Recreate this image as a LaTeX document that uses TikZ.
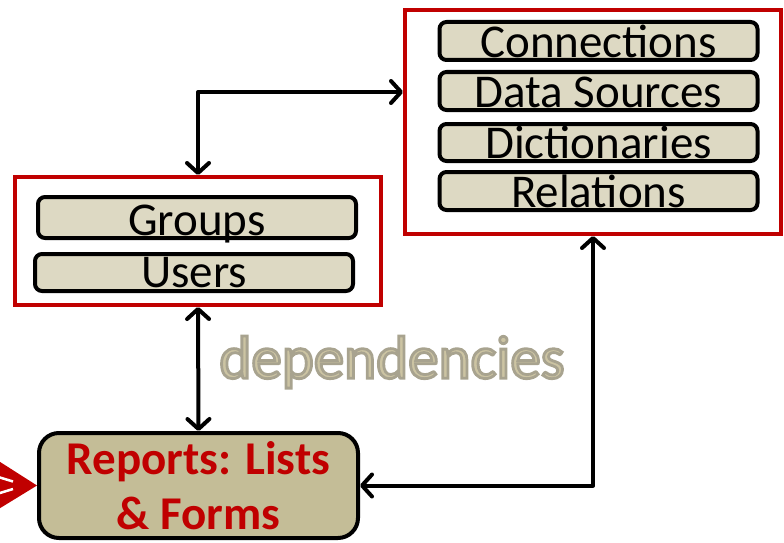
\documentclass[tikz,border=0pt]{standalone}
\usepackage{fontspec}
\setmainfont{Carlito}
\usetikzlibrary{arrows.meta,calc}
\definecolor{boxred}{HTML}{C00000}
\definecolor{lighttan}{HTML}{DDD9C3}
\definecolor{darktan}{HTML}{C4BD97}
\definecolor{deptan}{HTML}{CCC4A3}
\newcommand\glowtext[1]{\special{pdf:literal direct 2 Tr 2.8 w 0.66 0.64 0.56 RG}#1\special{pdf:literal direct 0 Tr}}
\tikzset{
  group/.style={draw=boxred, line width=4pt, inner sep=0pt},
  item/.style={draw=black, line width=4pt, fill=lighttan, rounded corners=7pt, inner sep=0pt,
    minimum width=318pt, font=\fontsize{47}{47}\selectfont},
  conn/.style={line width=4pt, line cap=round, line join=round,
    {Straight Barb[round,length=10pt,width=22pt]}-{Straight Barb[round,length=10pt,width=22pt]}},
}
\begin{document}
\begin{tikzpicture}[x=1pt,y=-1pt]
\useasboundingbox (0,0) rectangle (784,543);
% red group boxes
\node[group, minimum width=376pt, minimum height=224pt] (rbox) at (593,122) {};
\node[group, minimum width=366pt, minimum height=128pt] (lbox) at (198,241) {};
% items right
\node[item, minimum height=38pt, text height=35pt, text depth=3pt] (conns) at (598.5,41) {Connections};
\node[item, minimum height=38pt, text height=35pt, text depth=3pt] (dsrc) at (598.5,91) {Data Sources};
\node[item, minimum height=37pt, text height=34pt, text depth=3pt] (dict) at (598.5,142.5) {Dictionaries};
\node[item, minimum height=38pt, text height=35pt, text depth=3pt] (rel) at (598.5,191) {Relations};
% items left
\node[item, minimum height=41pt, text height=38pt, text depth=3pt] (groups) at (197,217.5) {Groups};
\node[item, minimum height=37pt, text height=33pt, text depth=4pt] (users) at (194,272.5) {Users};
% reports
\node[draw=black, line width=4pt, fill=darktan, rounded corners=20pt, inner sep=0pt,
  minimum width=319pt, minimum height=105pt, align=center, text=boxred,
  font=\bfseries\fontsize{47}{57}\selectfont] (rep) at (198.5,485.5) {Reports: Lists\\[-2pt]\& Forms};
% connectors
\coordinate (c1) at (198,92);
\draw[conn] (lbox.north) -- (c1) -- (c1 -| rbox.west);
\draw[conn] (lbox.south) -- (rep.north);
\draw[conn] (rbox.south) |- (rep.east);
% red incoming arrow
\coordinate (rtop) at (-3,460);
\coordinate (rbot) at (-3,510);
\fill[boxred] (rtop) -- (rep.west) -- (rbot) -- cycle;
\draw[white, line width=2.5pt] (-5,476) -- (13,481.5);
\draw[white, line width=2.5pt] (-5,494.5) -- (13,489);
% dependencies label
\node[text=deptan, font=\fontsize{61}{61}\selectfont, inner sep=0pt] (dep) at (392,362) {\glowtext{dependencies}};
\end{tikzpicture}
\end{document}
